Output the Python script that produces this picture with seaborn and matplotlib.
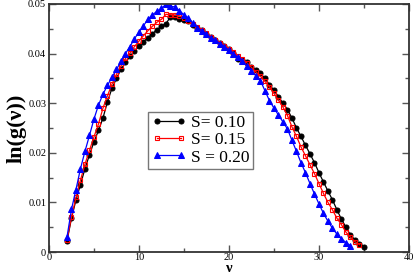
import numpy as np
import pandas as pd
import seaborn as sns
import matplotlib.pyplot as plt
from matplotlib.ticker import MultipleLocator, FuncFormatter

# nu values (step 0.5) for the three S curves
nu_010 = np.arange(2.0, 35.01, 0.5)
nu_015 = np.arange(2.0, 34.51, 0.5)
nu_020 = np.arange(2.0, 33.51, 0.5)

lng_010 = [0.0022, 0.0068, 0.0105, 0.0136, 0.0168, 0.0196, 0.0222, 0.0245, 0.0270, 0.0303,
           0.0330, 0.0350, 0.0368, 0.0382, 0.0394, 0.0405, 0.0415, 0.0424, 0.0432, 0.0440,
           0.0448, 0.0455, 0.0460, 0.0474, 0.0473, 0.0470, 0.0468, 0.0465, 0.0458, 0.0452,
           0.0447, 0.0440, 0.0434, 0.0427, 0.0421, 0.0415, 0.0409, 0.0402, 0.0388, 0.0386,
           0.0382, 0.0372, 0.0366, 0.0360, 0.0350, 0.0337, 0.0326, 0.0313, 0.0300, 0.0287,
           0.0270, 0.0250, 0.0233, 0.0215, 0.0198, 0.0180, 0.0160, 0.0141, 0.0123, 0.0105,
           0.0085, 0.0066, 0.0050, 0.0034, 0.0025, 0.0017, 0.0011]

lng_015 = [0.0024, 0.0070, 0.0110, 0.0145, 0.0177, 0.0205, 0.0232, 0.0258, 0.0290, 0.0315,
           0.0338, 0.0358, 0.0375, 0.0390, 0.0401, 0.0414, 0.0425, 0.0436, 0.0446, 0.0455,
           0.0463, 0.0469, 0.0479, 0.0478, 0.0477, 0.0476, 0.0472, 0.0466, 0.0460, 0.0454,
           0.0448, 0.0441, 0.0434, 0.0428, 0.0422, 0.0416, 0.0410, 0.0403, 0.0396, 0.0389,
           0.0381, 0.0372, 0.0363, 0.0354, 0.0344, 0.0333, 0.0320, 0.0306, 0.0292, 0.0275,
           0.0252, 0.0233, 0.0212, 0.0194, 0.0176, 0.0158, 0.0138, 0.0118, 0.0100, 0.0085,
           0.0068, 0.0055, 0.0040, 0.0030, 0.0021, 0.0015]

lng_020 = [0.0030, 0.0086, 0.0126, 0.0168, 0.0203, 0.0235, 0.0268, 0.0296, 0.0318, 0.0336,
           0.0352, 0.0368, 0.0384, 0.0400, 0.0414, 0.0430, 0.0443, 0.0456, 0.0469, 0.0478,
           0.0485, 0.0491, 0.0499, 0.0495, 0.0494, 0.0486, 0.0478, 0.0471, 0.0461, 0.0452,
           0.0446, 0.0439, 0.0432, 0.0427, 0.0420, 0.0414, 0.0407, 0.0400, 0.0392, 0.0384,
           0.0375, 0.0365, 0.0355, 0.0345, 0.0325, 0.0305, 0.0290, 0.0276, 0.0262, 0.0248,
           0.0225, 0.0203, 0.0180, 0.0160, 0.0138, 0.0117, 0.0097, 0.0078, 0.0062, 0.0048,
           0.0036, 0.0027, 0.0019, 0.0013]

labels = ["S= 0.10", "S= 0.15", "S = 0.20"]

plt.rcParams['font.family'] = ['Liberation Serif', 'DejaVu Serif']

fig = plt.figure(figsize=(4.15, 2.77), dpi=100)
ax = fig.add_axes([0.118, 0.09, 0.8675, 0.896])

sns.lineplot(x=nu_010, y=lng_010, ax=ax, color='black', marker='o', markersize=3.6,
             markeredgecolor='black', linewidth=0.9, label=labels[0])
sns.lineplot(x=nu_015, y=lng_015, ax=ax, color='red', marker='s', markersize=3.0,
             markerfacecolor='none', markeredgecolor='red', markeredgewidth=0.8,
             linewidth=0.9, label=labels[1])
sns.lineplot(x=nu_020, y=lng_020, ax=ax, color='blue', marker='^', markersize=3.8,
             markeredgecolor='blue', linewidth=0.9, label=labels[2])

ax.set_xlim(0, 40)
ax.set_ylim(0, 0.05)
ax.xaxis.set_major_locator(MultipleLocator(10))
ax.xaxis.set_minor_locator(MultipleLocator(5))
ax.yaxis.set_major_locator(MultipleLocator(0.01))
ax.yaxis.set_minor_locator(MultipleLocator(0.005))
ax.xaxis.set_major_formatter(FuncFormatter(lambda v, p: f"{v:g}"))
ax.yaxis.set_major_formatter(FuncFormatter(lambda v, p: "0" if abs(v) < 1e-9 else f"{v:.2f}"))
ax.tick_params(which='both', direction='in', top=True, right=True, labelsize=7.5,
               color='#555555', pad=2)
ax.tick_params(axis='x', pad=1)
ax.tick_params(which='major', length=5, width=1)
ax.tick_params(which='minor', length=3, width=1)
for s in ax.spines.values():
    s.set_linewidth(1.3)
    s.set_color('#333333')

ax.set_xlabel('ν', fontsize=10.5, fontweight='bold', labelpad=0)
ax.set_ylabel('ln(g(ν))', fontsize=16, fontweight='bold', labelpad=1)

leg = ax.legend(loc='upper left', bbox_to_anchor=(0.275, 0.565), numpoints=2,
                handlelength=2.0, handletextpad=0.3, fontsize=12.5, fancybox=False,
                framealpha=1, edgecolor='#777777', borderpad=0.2, labelspacing=0.05,
                borderaxespad=0)
leg.get_frame().set_linewidth(1.0)

fig.savefig('out.png', dpi=100)
